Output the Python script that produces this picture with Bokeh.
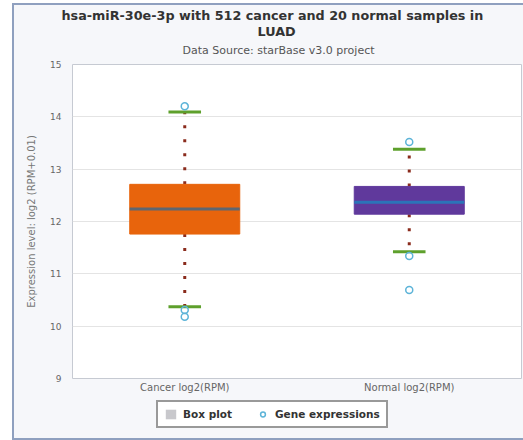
from bokeh.plotting import figure
from bokeh.layouts import column
from bokeh.models import (FactorRange, Range1d, Title, Legend, LegendItem,
                          FixedTicker, ColumnDataSource)
from bokeh.embed import file_html
from bokeh.resources import INLINE

# ---- data ----
categories = ["Cancer log2(RPM)", "Normal log2(RPM)"]
q1 = [11.76, 12.14]
median = [12.24, 12.37]
q3 = [12.71, 12.67]
lower = [10.37, 11.42]
upper = [14.09, 13.38]
outlier_cat = ["Cancer log2(RPM)", "Cancer log2(RPM)", "Cancer log2(RPM)",
               "Normal log2(RPM)", "Normal log2(RPM)", "Normal log2(RPM)"]
outlier_val = [14.20, 10.31, 10.18, 13.52, 11.34, 10.69]
box_colors = ["#e8640c", "#60399c"]
median_colors = ["#5d6670", "#2b74b8"]
y_ticks = [9, 10, 11, 12, 13, 14, 15]

title_line1 = "hsa-miR-30e-3p with 512 cancer and 20 normal samples in"
title_line2 = "LUAD"
subtitle = "Data Source: starBase v3.0 project"
y_label = "Expression level: log2 (RPM+0.01)"
legend_labels = ["Box plot", "Gene expressions"]

FONT = "DejaVu Sans"
BG = "#f6f7fa"
W = 509

# ---- main plot ----
p = figure(width=W, height=391, x_range=FactorRange(factors=categories),
           y_range=Range1d(9, 15), output_backend="svg", toolbar_location=None,
           min_border_left=58, min_border_right=2, min_border_top=10,
           min_border_bottom=18)
p.background_fill_color = "white"
p.border_fill_color = BG
p.outline_line_color = "#c6cad2"
p.outline_line_width = 1

p.xgrid.grid_line_color = None
p.ygrid.grid_line_color = "#e4e4e4"
p.ygrid.ticker = FixedTicker(ticks=y_ticks)

p.yaxis.ticker = FixedTicker(ticks=y_ticks)
p.yaxis.axis_line_color = None
p.yaxis.major_tick_line_color = None
p.yaxis.minor_tick_line_color = None
p.yaxis.major_tick_out = 0
p.yaxis.major_tick_in = 0
p.yaxis.major_label_standoff = 11
p.yaxis.major_label_text_font = FONT
p.yaxis.major_label_text_font_size = "9px"
p.yaxis.major_label_text_color = "#666666"
p.yaxis.axis_label = y_label
p.yaxis.axis_label_text_font = FONT
p.yaxis.axis_label_text_font_size = "10px"
p.yaxis.axis_label_text_font_style = "normal"
p.yaxis.axis_label_text_color = "#777777"
p.yaxis.axis_label_standoff = 10

p.xaxis.axis_line_color = None
p.xaxis.major_tick_line_color = None
p.xaxis.major_tick_out = 0
p.xaxis.major_tick_in = 0
p.xaxis.major_label_standoff = 3
p.xaxis.major_label_text_font = FONT
p.xaxis.major_label_text_font_size = "10px"
p.xaxis.major_label_text_color = "#666666"

# titles, added from the plot outward
p.add_layout(Title(text=" ", text_font_size="1px", standoff=5), "above")
p.add_layout(Title(text=subtitle, align="left", offset=110, text_font=FONT,
                   text_font_size="11px", text_font_style="normal",
                   text_color="#555555", standoff=0), "above")
p.add_layout(Title(text=" ", text_font_size="1px", standoff=1), "above")
p.add_layout(Title(text=title_line2, align="left", offset=185, text_font=FONT,
                   text_font_size="12.75px", text_font_style="bold",
                   text_color="#333333", standoff=-2), "above")
p.add_layout(Title(text=title_line1, align="left", offset=-11, text_font=FONT,
                   text_font_size="12.75px", text_font_style="bold",
                   text_color="#333333", standoff=0), "above")

src = ColumnDataSource(dict(cat=categories, q1=q1, q3=q3, med=median,
                            lo=lower, hi=upper, bc=box_colors, mc=median_colors))

# dotted whiskers
p.segment(x0="cat", y0="q3", x1="cat", y1="hi", source=src, line_color="#8a2b1c",
          line_width=3, line_dash="3 11")
p.segment(x0="cat", y0="q1", x1="cat", y1="lo", source=src, line_color="#8a2b1c",
          line_width=3, line_dash="3 11")
# boxes
p.vbar(x="cat", top="q3", bottom="q1", width=0.49, source=src, fill_color="bc",
       line_color="bc", line_width=1)
# medians
p.rect(x="cat", y="med", width=0.49, height=3, height_units="screen", source=src,
       fill_color="mc", line_color=None)
# whisker caps
p.rect(x="cat", y="hi", width=0.145, height=3, height_units="screen", source=src,
       fill_color="#5ea02c", line_color=None)
p.rect(x="cat", y="lo", width=0.145, height=3, height_units="screen", source=src,
       fill_color="#5ea02c", line_color=None)
# outliers
p.scatter(x=outlier_cat, y=outlier_val, marker="circle", size=7,
          fill_color="white", fill_alpha=0.0, line_color="#5db4d8", line_width=1.5)

# ---- legend strip ----
p2 = figure(width=W, height=42, x_range=Range1d(0, 1), y_range=Range1d(0, 1),
            output_backend="svg", toolbar_location=None, min_border=0)
p2.axis.visible = False
p2.grid.visible = False
p2.outline_line_color = None
p2.background_fill_color = BG
p2.border_fill_color = BG
# legend sample glyphs kept outside the visible range of this strip
r_box = p2.quad(left=[5], right=[6], top=[6], bottom=[5], fill_color="#c8c8cc",
                line_color=None)
r_pt = p2.scatter(x=[5], y=[5], marker="circle", fill_color="white",
                  fill_alpha=0.0, line_color="#5db4d8", line_width=1.5)
legend = Legend(items=[LegendItem(label=legend_labels[0], renderers=[r_box]),
                       LegendItem(label=legend_labels[1], renderers=[r_pt])],
                orientation="horizontal", location=(84, 10))
legend.border_line_color = "#333333"
legend.border_line_width = 2
legend.background_fill_color = "white"
legend.background_fill_alpha = 1.0
legend.label_text_font = FONT
legend.label_text_font_style = "bold"
legend.label_text_font_size = "10.5px"
legend.label_text_color = "#333333"
legend.glyph_width = 13
legend.glyph_height = 12
legend.label_standoff = 6
legend.spacing = 24
legend.padding = 6
legend.margin = 0
legend.label_height = 12
p2.add_layout(legend)

layout = column(p, p2, spacing=0,
                styles={"margin-left": "12px", "margin-top": "3px",
                        "border-left": "2px solid #8fa0bf",
                        "border-top": "2px solid #8fa0bf",
                        "border-bottom": "2px solid #8fa0bf",
                        "background-color": BG})

open("out.html", "w").write(file_html(layout, INLINE))
